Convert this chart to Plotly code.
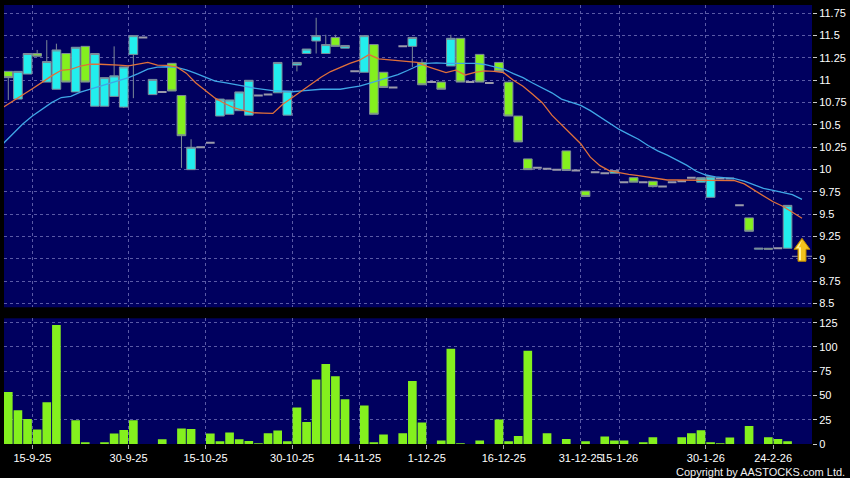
import plotly.graph_objects as go

# ---------------- data ----------------
opens = [11.10, 10.79, 11.07, 11.30, 10.98, 10.90, 11.30, 10.87, 11.38, 10.71,
         10.71, 10.82, 10.70, 11.29, 11.48, 10.84, 10.87, 11.19, 10.83, 10.00,
         10.25, 10.30, 10.60, 10.62, 10.66, 10.61, 10.83, 10.84, 10.86, 10.61,
         11.17, 11.30, 11.44, 11.30, 11.48, 11.36, 11.10, 11.09, 11.40, 11.09,
         10.92, 11.38, 11.38, 11.20, 10.98, 10.98, 11.16, 11.47, 10.98, 11.29,
         10.97, 11.20, 10.98, 10.60, 10.12, 10.02, 10.01, 10.00, 10.21, 9.99,
         9.76, 9.97, 9.96, 9.96, 9.86, 9.91, 9.86, 9.87, 9.81, 9.86,
         9.87, 9.91, 9.86, 9.69, 9.90, 9.90, 9.60, 9.46, 9.11, 9.12,
         9.12, 9.12]
highs = [11.10, 11.10, 11.30, 11.34, 11.45, 11.41, 11.30, 11.37, 11.38, 11.30,
         11.03, 11.38, 11.15, 11.50, 11.48, 11.01, 10.87, 11.19, 10.83, 10.34,
         10.25, 10.30, 10.79, 10.78, 10.87, 11.00, 10.83, 10.84, 11.20, 10.88,
         11.20, 11.35, 11.70, 11.51, 11.51, 11.39, 11.10, 11.50, 11.40, 11.09,
         10.92, 11.38, 11.48, 11.24, 10.98, 10.98, 11.51, 11.47, 10.98, 11.29,
         10.97, 11.20, 10.98, 10.60, 10.12, 10.02, 10.01, 10.00, 10.21, 9.99,
         9.76, 9.97, 9.96, 9.99, 9.86, 9.91, 9.86, 9.87, 9.81, 9.86,
         9.87, 9.91, 9.91, 9.92, 9.90, 9.90, 9.60, 9.46, 9.12, 9.12,
         9.12, 9.60]
lows = [10.78, 10.79, 11.07, 11.27, 10.98, 10.90, 10.98, 10.87, 10.98, 10.71,
        10.71, 10.82, 10.69, 10.80, 11.48, 10.84, 10.87, 10.88, 10.02, 10.00,
        10.25, 10.30, 10.60, 10.62, 10.66, 10.61, 10.83, 10.84, 10.86, 10.61,
        11.10, 11.30, 11.30, 11.30, 11.38, 11.36, 11.10, 11.09, 10.62, 10.92,
        10.92, 11.38, 11.15, 10.95, 10.98, 10.90, 11.16, 10.98, 10.98, 10.98,
        10.97, 11.10, 10.60, 10.31, 10.00, 10.02, 10.01, 10.00, 9.99, 9.99,
        9.70, 9.97, 9.96, 9.96, 9.86, 9.86, 9.86, 9.80, 9.81, 9.86,
        9.87, 9.91, 9.86, 9.69, 9.90, 9.90, 9.60, 9.31, 9.11, 9.11,
        9.12, 9.12]
closes = [11.03, 11.10, 11.30, 11.27, 11.21, 11.34, 10.98, 11.37, 10.98, 11.30,
          11.03, 11.05, 11.15, 11.50, 11.48, 11.01, 10.87, 10.88, 10.38, 10.25,
          10.25, 10.30, 10.79, 10.78, 10.87, 11.00, 10.83, 10.84, 11.20, 10.88,
          11.20, 11.35, 11.50, 11.40, 11.38, 11.39, 11.10, 11.50, 10.62, 10.92,
          10.92, 11.38, 11.48, 10.95, 10.98, 10.90, 11.47, 10.98, 10.98, 10.98,
          10.97, 11.10, 10.60, 10.31, 10.00, 10.02, 10.01, 10.00, 9.99, 9.99,
          9.70, 9.97, 9.96, 9.99, 9.86, 9.86, 9.86, 9.81, 9.81, 9.86,
          9.87, 9.91, 9.91, 9.92, 9.90, 9.90, 9.60, 9.31, 9.12, 9.11,
          9.12, 9.60]
volumes = [53.7, 34.8, 25.8, 14.9, 43.1, 122.6, 0, 24.5, 1.8, 0,
           1.0, 10.7, 14.5, 24.5, 0, 0, 4.9, 0, 15.9, 15.5,
           0, 10.7, 2.8, 11.8, 4.9, 3.1, 0.5, 11.0, 13.8, 2.8,
           37.6, 22.7, 66.5, 82.3, 69.9, 46.2, 0, 39.7, 1.0, 9.7,
           0, 11.0, 64.8, 22.1, 0, 3.5, 98.1, 0.3, 0, 3.5,
           0, 25.2, 2.8, 8.3, 96.1, 0, 11.0, 0, 5.2, 0,
           2.8, 0, 7.6, 3.5, 3.5, 0, 1.8, 6.9, 0, 0,
           6.9, 11.0, 14.2, 1.3, 0.5, 6.6, 0, 18.6, 0, 6.9,
           5.2, 2.8]
ma_short = [10.70, 10.766, 10.836, 10.905, 10.977, 11.05, 11.112, 11.123, 11.16, 11.18,
            11.18, 11.178, 11.17, 11.162, 11.18, 11.20, 11.17, 11.168, 11.15, 11.08,
            10.97, 10.88, 10.80, 10.74, 10.69, 10.66, 10.637, 10.633, 10.63, 10.73,
            10.806, 10.886, 10.967, 11.035, 11.098, 11.145, 11.19, 11.225, 11.288, 11.24,
            11.23, 11.225, 11.215, 11.20, 11.155, 11.12, 11.087, 11.113, 11.06, 11.09,
            11.105, 11.10, 11.085, 11.00, 10.933, 10.845, 10.75, 10.61, 10.50, 10.395,
            10.29, 10.14, 10.045, 9.987, 9.965, 9.947, 9.932, 9.918, 9.90, 9.884,
            9.884, 9.884, 9.884, 9.884, 9.882, 9.88, 9.877, 9.84, 9.775, 9.705,
            9.64, 9.59, 9.525, 9.455]
ma_long = [10.295, 10.40, 10.51, 10.60, 10.68, 10.75, 10.807, 10.82, 10.867, 10.90,
           10.93, 10.96, 10.992, 11.03, 11.075, 11.125, 11.147, 11.152, 11.145, 11.117,
           11.077, 11.035, 10.99, 10.975, 10.958, 10.935, 10.914, 10.898, 10.884, 10.878,
           10.872, 10.882, 10.894, 10.90, 10.90, 10.90, 10.918, 10.935, 10.966, 10.998,
           11.03, 11.063, 11.11, 11.16, 11.19, 11.195, 11.19, 11.19, 11.198, 11.19,
           11.177, 11.155, 11.125, 11.075, 11.03, 10.97, 10.917, 10.86, 10.79, 10.754,
           10.72, 10.66, 10.59, 10.52, 10.45, 10.395, 10.34, 10.27, 10.21, 10.162,
           10.107, 10.05, 9.982, 9.94, 9.918, 9.91, 9.90, 9.872, 9.835, 9.79,
           9.768, 9.747, 9.72, 9.668]
date_labels = ["15-9-25", "30-9-25", "15-10-25", "30-10-25", "14-11-25", "1-12-25",
               "16-12-25", "31-12-25", "15-1-26", "30-1-26", "24-2-26"]
date_slots = [2.5, 12.5, 20.5, 29.5, 36.5, 43.5, 51.5, 59.5, 63.5, 72.5, 79.5]
price_ticks = [8.5, 8.75, 9, 9.25, 9.5, 9.75, 10, 10.25, 10.5, 10.75, 11, 11.25, 11.5, 11.75]
price_labels = ["8.5", "8.75", "9", "9.25", "9.5", "9.75", "10", "10.25", "10.5",
                "10.75", "11", "11.25", "11.5", "11.75"]
vol_ticks = [0, 25, 50, 75, 100, 125]
vol_labels = ["0", "25", "50", "75", "100", "125"]
marker_price = 9.03

# ---------------- styles ----------------
BG = "#00005f"
GRID = "#5a5aa6"
CYAN = "#22eeee"
GREEN = "#84f01e"
EDGE = "#7d8a98"
FLAT = "#9a9aaa"
FONT = "Arial, Liberation Sans, sans-serif"

slots = list(range(len(opens)))
moving = [i for i in slots if opens[i] != closes[i]]
flat = [i for i in slots if opens[i] == closes[i]]
ma_pos = [i - 0.5 for i in range(len(ma_short))]

fig = go.Figure()
fig.add_trace(go.Candlestick(
    x=[slots[i] for i in moving],
    open=[opens[i] for i in moving], high=[highs[i] for i in moving],
    low=[lows[i] for i in moving], close=[closes[i] for i in moving],
    increasing=dict(fillcolor=CYAN, line=dict(color=EDGE, width=1)),
    decreasing=dict(fillcolor=GREEN, line=dict(color=EDGE, width=1)),
    whiskerwidth=0, showlegend=False, hoverinfo="skip",
    xaxis="x", yaxis="y"))
fig.add_trace(go.Candlestick(
    x=[slots[i] for i in flat],
    open=[opens[i] for i in flat], high=[highs[i] for i in flat],
    low=[lows[i] for i in flat], close=[closes[i] for i in flat],
    increasing=dict(fillcolor=FLAT, line=dict(color=FLAT, width=2)),
    decreasing=dict(fillcolor=FLAT, line=dict(color=FLAT, width=2)),
    whiskerwidth=0, showlegend=False, hoverinfo="skip",
    xaxis="x", yaxis="y"))
fig.add_trace(go.Scatter(x=ma_pos, y=ma_long, mode="lines",
                         line=dict(color="#3fa6e6", width=1.3),
                         showlegend=False, hoverinfo="skip", xaxis="x", yaxis="y"))
fig.add_trace(go.Scatter(x=ma_pos, y=ma_short, mode="lines",
                         line=dict(color="#e0703a", width=1.3),
                         showlegend=False, hoverinfo="skip", xaxis="x", yaxis="y"))
fig.add_trace(go.Bar(x=slots, y=volumes, width=0.9,
                     marker=dict(color=GREEN, line=dict(width=0)),
                     showlegend=False, hoverinfo="skip", xaxis="x2", yaxis="y2"))

marker_slot = len(opens) + 0.5
fig.add_shape(type="line", xref="x", yref="y", xsizemode="pixel", xanchor=marker_slot,
              x0=-10, x1=10, y0=marker_price, y1=marker_price,
              line=dict(color=FLAT, width=1))
fig.add_shape(type="path", xref="x", yref="y", xsizemode="pixel", ysizemode="pixel",
              xanchor=marker_slot, yanchor=marker_price,
              path="M 0,18 L 8,7 L 4,7 L 4,-5 L -4,-5 L -4,7 L -8,7 Z",
              fillcolor="#f2c21c", line=dict(color="#b88400", width=1))
fig.add_shape(type="path", xref="x", yref="y", xsizemode="pixel", ysizemode="pixel",
              xanchor=marker_slot, yanchor=marker_price,
              path="M 0,16 L -6,8 L -3,8 L -3,-4 L -1,-4 L -1,9 L -3,9 Z",
              fillcolor="#fff29a", line=dict(width=0))

x_common = dict(range=[-0.447, 83.54], showgrid=True, gridcolor=GRID, griddash="3px,3px",
                gridwidth=1, zeroline=False, showline=False, tickmode="array",
                tickvals=date_slots, fixedrange=True)
fig.update_layout(
    width=850, height=478,
    margin=dict(l=4, r=38, t=5, b=34),
    paper_bgcolor="#000000", plot_bgcolor=BG,
    font=dict(family=FONT, size=11, color="#ffffff"),
    boxgap=0.1, boxgroupgap=0,
    bargap=0.1,
    showlegend=False,
    xaxis=dict(**x_common, anchor="y", showticklabels=False, ticks="",
               rangeslider=dict(visible=False)),
    xaxis2=dict(**x_common, anchor="y2", matches="x", ticktext=date_labels,
                showticklabels=True, ticks="outside", ticklen=4, tickcolor="#aaaaaa",
                tickangle=0, tickfont=dict(size=11, color="#ffffff"),
                rangeslider=dict(visible=False)),
    yaxis=dict(domain=[0.3114, 1.0], range=[8.459, 11.843], side="right",
               tickmode="array", tickvals=price_ticks, ticktext=price_labels,
               ticks="outside", ticklen=4, tickcolor="#cccccc",
               showgrid=True, gridcolor=GRID, griddash="3px,3px", gridwidth=1,
               zeroline=False, showline=False, fixedrange=True, automargin=False),
    yaxis2=dict(domain=[0.0, 0.2863], range=[0, 129.5], side="right",
                tickmode="array", tickvals=vol_ticks, ticktext=vol_labels,
                ticks="outside", ticklen=4, tickcolor="#cccccc",
                showgrid=True, gridcolor=GRID, griddash="3px,3px", gridwidth=1,
                zeroline=False, showline=False, fixedrange=True, automargin=False),
    annotations=[dict(text="Copyright by AASTOCKS.com Ltd.", xref="paper", yref="paper",
                      x=1, y=0, xanchor="right", yanchor="middle", xshift=35, yshift=-28,
                      showarrow=False, font=dict(size=11, color="#f0f0f0", family=FONT))],
)
fig.write_html("out.html", config={"displayModeBar": False},
               post_script="document.body.style.margin='0';")
